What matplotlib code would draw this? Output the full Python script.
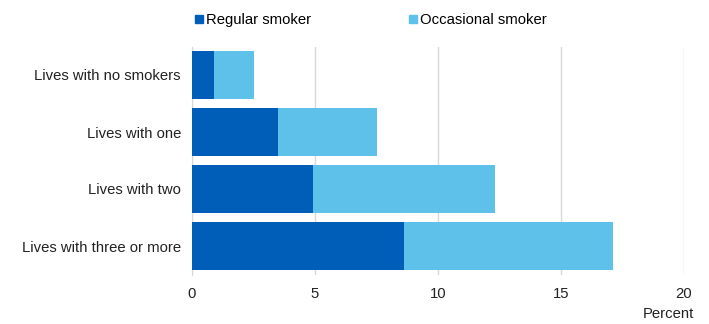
import matplotlib.pyplot as plt
from matplotlib.lines import Line2D

plt.rcParams['font.family'] = ['Liberation Sans', 'DejaVu Sans']

categories = ['Lives with no smokers', 'Lives with one', 'Lives with two', 'Lives with three or more']
regular = [0.9, 3.5, 4.9, 8.6]
occasional = [1.6, 4.0, 7.4, 8.5]
series_names = ['Regular smoker', 'Occasional smoker']
xticks = [0, 5, 10, 15, 20]

dark = '#005EB8'
light = '#5EC1E9'
fs = 10.7

fig = plt.figure(figsize=(7.09, 3.24), dpi=100)
ax = fig.add_axes([192 / 709, 1 - 274.5 / 324, (684 - 192) / 709, (274.5 - 46.5) / 324])

ypos = list(range(len(categories)))
ax.barh(ypos, regular, height=0.84, color=dark, zorder=3)
ax.barh(ypos, occasional, left=regular, height=0.84, color=light, zorder=3)

ax.set_ylim(len(categories) - 0.5, -0.5)
ax.set_xlim(0, 20)
ax.set_xticks(xticks)
ax.set_yticks(ypos)
ax.set_yticklabels(categories, fontsize=fs, color='#222222')
ax.tick_params(axis='x', labelsize=fs, colors='#222222', length=0, pad=9)
ax.tick_params(axis='y', length=0, pad=8)
ax.grid(axis='x', color='#d9d9d9', linewidth=1, zorder=0)
for s in ['top', 'right', 'bottom']:
    ax.spines[s].set_visible(False)
ax.spines['left'].set_color('#d9d9d9')

fig.text(694 / 709, 1 - 314 / 324, 'Percent', ha='right', va='center', fontsize=fs, color='#222222')

handles = [Line2D([], [], marker='s', linestyle='none', markersize=6, color=c) for c in (dark, light)]
fig.legend(handles, series_names, loc='center left', bbox_to_anchor=(195 / 709, 1 - 20 / 324),
           ncol=2, frameon=False, fontsize=fs, handlelength=0.5, handletextpad=0.25,
           columnspacing=6.6, borderaxespad=0, borderpad=0)

fig.savefig('out.png', dpi=100)
